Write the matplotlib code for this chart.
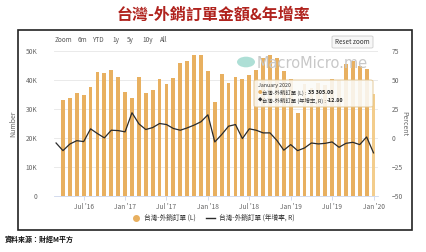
import numpy as np
import pandas as pd
import matplotlib
matplotlib.use("Agg")
from matplotlib import pyplot as plt
from matplotlib.patches import Rectangle, FancyBboxPatch, Circle
from matplotlib.lines import Line2D

plt.rcParams['font.family'] = ['Noto Sans CJK TC', 'DejaVu Sans']

# monthly data, line starts Mar 2016, bars start Apr 2016
months = pd.period_range('2016-03', '2020-01', freq='M')

orders = [  # 外銷訂單金額, million USD (Apr 2016 - Jan 2020)
    33.0, 33.7, 35.6, 34.7, 37.7, 42.8, 42.5, 43.4, 41.0,
    35.8, 33.7, 41.0, 35.4, 36.6, 40.2, 38.5, 40.6, 45.8, 46.4, 48.6, 48.5,
    43.2, 32.3, 42.2, 38.9, 41.1, 40.3, 41.8, 43.4, 47.6, 48.7, 47.6, 43.2,
    40.5, 28.7, 38.6, 37.2, 39.0, 38.4, 40.4, 39.9, 45.5, 46.6, 44.9, 43.8,
    35.305,
]
yoy = [  # 年增率 % (Mar 2016 - Jan 2020)
    -4.3, -10.9, -5.2, -2.3, -3.1, 7.9, 3.8, 0.1, 6.7, 6.4,
    5.3, 21.8, 12.2, 7.3, 9.0, 12.5, 11.6, 8.2, 6.7, 8.7, 11.1, 14.0,
    20.0, -3.4, 3.0, 10.2, 11.6, -0.5, 7.9, 6.7, 4.4, 4.4, -2.1, -10.5,
    -5.7, -10.9, -8.6, -4.3, -5.1, -4.6, -3.4, -8.0, -4.6, -3.7, -5.7, 0.9,
    -12.8,
]
tick_labels = ["Jul '16", "Jan '17", "Jul '17", "Jan '18",
               "Jul '18", "Jan '19", "Jul '19", "Jan '20"]

W, H = 426, 252
fig = plt.figure(figsize=(W / 100, H / 100), dpi=100)
fig.patch.set_facecolor('white')
renderer = fig.canvas.get_renderer()

def fx(px):
    return px / W

def fy(py):
    return 1 - py / H

# chart frame
fig.add_artist(Rectangle((fx(18), fy(230)), fx(412) - fx(18), fy(30) - fy(230),
                         transform=fig.transFigure, fill=False, ec='#222222', lw=1.2))

ax = fig.add_axes([fx(54), fy(196), fx(378) - fx(54), fy(51) - fy(196)])
ax2 = ax.twinx()
ax.set_zorder(1)
ax2.set_zorder(2)
ax.patch.set_visible(False)
ax2.patch.set_visible(False)

x = np.arange(len(months))
bar_x = x[1:]
bar_vals = np.array(orders) * 1000
colors = ['#E8B060'] * (len(bar_vals) - 1) + ['#F3CD8C']
ax.bar(bar_x, bar_vals, width=0.55, color=colors, zorder=2)
ax2.plot(x, yoy, color='#2b2b2b', lw=0.9, zorder=3)

ax.set_xlim(-0.3, 46.65)
ax.set_ylim(0, 50000)
ax2.set_ylim(-50, 75)
ax.set_yticks(np.arange(0, 50001, 10000))
ax.set_yticklabels(['0', '10K', '20K', '30K', '40K', '50K'])
ax2.set_yticks([-50, -25, 0, 25, 50, 75])
ax.grid(axis='y', color='#e6e6e6', lw=0.6, zorder=0)

tick_pos = [months.get_loc(pd.Period(f'{y}-{m:02d}', 'M'))
            for y, m in [(2016, 7), (2017, 1), (2017, 7), (2018, 1),
                         (2018, 7), (2019, 1), (2019, 7), (2020, 1)]]
ax.set_xticks(tick_pos)
ax.set_xticklabels(tick_labels)

for a in (ax, ax2):
    for s in a.spines.values():
        s.set_visible(False)
ax.spines['bottom'].set_visible(True)
ax.spines['bottom'].set_color('#ccd6eb')
ax.spines['bottom'].set_linewidth(0.6)
ax.tick_params(axis='x', colors='#ccd6eb', length=3, width=0.6, labelsize=4.8,
               labelcolor='#666666', pad=2)
ax.tick_params(axis='y', length=0, labelsize=4.8, labelcolor='#666666', pad=12)
ax2.tick_params(axis='y', length=0, labelsize=4.8, labelcolor='#666666', pad=10)

ax.set_ylabel('Number', fontsize=5, color='#666666', labelpad=6)
ax2.set_ylabel('Percent', fontsize=5, color='#666666', rotation=270, labelpad=4)

# title
fig.text(0.5, fy(15), '台灣-外銷訂單金額&年增率', ha='center', va='center',
         fontsize=11.5, fontweight='bold', color='#B0231E')

# range selector
for label, px in [('Zoom', 55), ('6m', 78), ('YTD', 92), ('1y', 112),
                  ('5y', 127), ('10y', 142), ('All', 160)]:
    fig.text(fx(px), fy(40), label, fontsize=4.6, color='#555555', va='center')

# reset zoom button
fig.add_artist(FancyBboxPatch((fx(332), fy(48)), fx(373) - fx(332), fy(36) - fy(48),
                              boxstyle='round,pad=0,rounding_size=0.004',
                              transform=fig.transFigure, fc='#f7f7f7', ec='#cccccc', lw=0.6))
fig.text(fx(352.5), fy(42), 'Reset zoom', fontsize=4.6, color='#333333',
         ha='center', va='center')

# watermark
fig.add_artist(Circle((fx(246), fy(62)), 9 / W, transform=fig.transFigure,
                      fc='#9ad8cc', ec='none', alpha=0.8, zorder=4))
fig.text(fx(257), fy(63), 'MacroMicro.me', fontsize=10.5, color='#c8c8c8',
         va='center', family='DejaVu Sans', zorder=4)

# tooltip
fig.add_artist(FancyBboxPatch((fx(254), fy(107)), fx(373) - fx(254), fy(80) - fy(107),
                              boxstyle='round,pad=0,rounding_size=0.006',
                              transform=fig.transFigure, fc='#fbfbf8', ec='#e2c48e',
                              lw=0.7, alpha=0.88, zorder=5))
fig.text(fx(258), fy(86), 'January 2020', fontsize=3.8, color='#333333',
         va='center', zorder=6)
tip_rows = [('●', '#E8B060', '台灣-外銷訂單 (L) : ', '35 305.00', 93),
            ('◆', '#2b2b2b', '台灣-外銷訂單 (年增率, R) : ', '-12.80', 100.5)]
for mark, mcol, label, val, py in tip_rows:
    fig.text(fx(258), fy(py), mark, fontsize=3.2, color=mcol, va='center', zorder=6)
    t = fig.text(fx(262), fy(py), label, fontsize=3.9, color='#333333',
                 va='center', zorder=6)
    bb = t.get_window_extent(renderer)
    fig.text(bb.x1 / W, fy(py), val, fontsize=3.9, color='#222222',
             va='center', fontweight='bold', zorder=6)

# legend
handles = [Line2D([], [], marker='o', ls='none', color='#E8B060', markersize=4),
           Line2D([], [], color='#2b2b2b', lw=1)]
fig.legend(handles, ['台灣-外銷訂單 (L)', '台灣-外銷訂單 (年增率, R)'],
           loc='center', bbox_to_anchor=(0.5, fy(218)), ncol=2, frameon=False,
           fontsize=4.8, handlelength=1.3, handletextpad=0.6, columnspacing=1.6,
           labelcolor='#333333')

# footer
fig.text(fx(5), fy(239), '資料來源：財經M平方', fontsize=5, fontweight='bold',
         color='#111111', va='center')

fig.savefig('out.png', dpi=100)
